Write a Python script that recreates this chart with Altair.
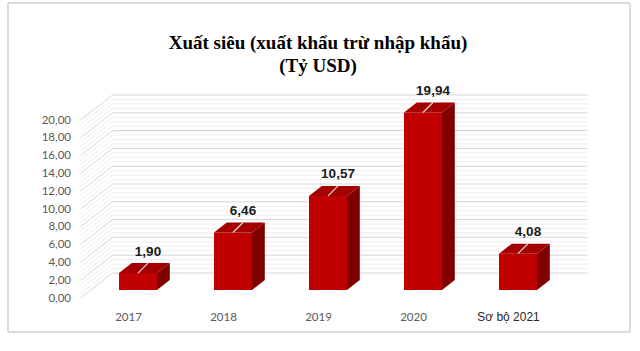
import altair as alt
import pandas as pd
import numpy as np

# ---- data ----
categories = ["2017", "2018", "2019", "2020", "Sơ bộ 2021"]
values = [1.90, 6.46, 10.57, 19.94, 4.08]
y_ticks = [0, 2, 4, 6, 8, 10, 12, 14, 16, 18, 20]
title_lines = ["Xuất siêu (xuất khẩu trừ nhập khẩu)", "(Tỷ USD)"]

# ---- geometry of the pseudo-3D projection ----
W, H = 475, 178
X_DOMAIN = [-0.5, len(categories) - 0.5]
Y_DOMAIN = [0, 20]
PX_X = W / (X_DOMAIN[1] - X_DOMAIN[0])
PX_Y = H / (Y_DOMAIN[1] - Y_DOMAIN[0])


def ux(px):
    return px / PX_X


def uy(px):
    return px / PX_Y


WALL_DX, WALL_DY = ux(32), uy(25)      # depth of the walls
BAR_DX, BAR_DY = ux(10), uy(8)         # bar front face set back
TOP_DX, TOP_DY = ux(12.8), uy(10)      # bar depth
HALF = ux(19)                          # half bar width
LEAD_DX, LEAD_DY = ux(10), uy(10)      # leader line

# ---- derived tables ----
grid_vals = np.round(np.arange(0, 20.001, 0.5), 2)
grid = pd.DataFrame({"v": grid_vals})
grid["major"] = (grid["v"] % 2 == 0)
grid["bx"] = X_DOMAIN[0] + WALL_DX
grid["bx2"] = X_DOMAIN[1] + WALL_DX
grid["by"] = grid["v"] + WALL_DY
grid["sx"] = X_DOMAIN[0]

bars = pd.DataFrame({"i": range(len(categories)), "name": categories, "v": values})
bars["x0"] = bars["i"] + BAR_DX - HALF
bars["x1"] = bars["i"] + BAR_DX + HALF
bars["yb"] = BAR_DY
bars["yt"] = bars["v"] + BAR_DY
bars["lx"] = bars["i"] + BAR_DX
bars["lx2"] = bars["lx"] + LEAD_DX
bars["ly2"] = bars["yt"] + LEAD_DY

side_rows, top_rows = [], []
for r in bars.to_dict("records"):
    side_rows.append({"name": r["name"], "x": r["x1"], "y": r["yb"], "y2": r["yt"]})
    side_rows.append({"name": r["name"], "x": r["x1"] + TOP_DX, "y": r["yb"] + TOP_DY, "y2": r["yt"] + TOP_DY})
    top_rows.append({"name": r["name"], "y": r["yt"], "x": r["x0"], "x2": r["x1"]})
    top_rows.append({"name": r["name"], "y": r["yt"] + TOP_DY, "x": r["x0"] + TOP_DX, "x2": r["x1"] + TOP_DX})
side = pd.DataFrame(side_rows)
top = pd.DataFrame(top_rows)

xs = alt.Scale(domain=X_DOMAIN, nice=False, zero=False)
ys = alt.Scale(domain=Y_DOMAIN, nice=False, zero=False)

label_expr = "[" + ",".join("'" + c + "'" for c in categories) + "][datum.value]"
last = len(categories) - 1
cond = f"datum.value == {last}"

AX_X = alt.Axis(
    values=list(range(len(categories))), labelExpr=label_expr, title=None,
    domain=False, ticks=False, grid=False, labelPadding=13,
    labelFont={"condition": {"test": cond, "value": "Liberation Sans"}, "value": "Lato"},
    labelFontSize={"condition": {"test": cond, "value": 12}, "value": 11.5},
    labelColor={"condition": {"test": cond, "value": "#262626"}, "value": "#595959"},
)
AX_Y = alt.Axis(
    values=y_ticks, labelExpr="replace(format(datum.value, '.2f'), '.', ',')",
    title=None, domain=False, ticks=False, grid=False, labelPadding=10,
    labelFont="Lato", labelFontSize=11.5, labelColor="#595959",
)


def X(f):
    return alt.X(f, scale=xs, axis=AX_X, title=None)


def Y(f):
    return alt.Y(f, scale=ys, axis=AX_Y, title=None)


# ---- layers ----
grid_color = alt.condition("datum.major", alt.value("#d6d6d6"), alt.value("#ededed"))
back_wall = alt.Chart(grid).mark_rule().encode(
    x=X("bx:Q"), x2="bx2:Q", y=Y("by:Q"), color=grid_color,
)
side_wall = alt.Chart(grid).mark_rule().encode(
    x=X("sx:Q"), x2="bx:Q", y=Y("v:Q"), y2="by:Q", color=grid_color,
)
front = alt.Chart(bars).mark_rect(color="#C00000").encode(
    x=X("x0:Q"), x2="x1:Q", y=Y("yb:Q"), y2="yt:Q",
)
side_face = alt.Chart(side).mark_area(orient="vertical", color="#800000").encode(
    x=X("x:Q"), y=Y("y:Q"), y2="y2:Q", detail="name:N",
)
top_face = alt.Chart(top).mark_area(orient="horizontal", color="#A50000").encode(
    y=Y("y:Q"), x=X("x:Q"), x2="x2:Q", detail="name:N",
)
leader = alt.Chart(bars).mark_rule(color="#d9d9d9", strokeWidth=1.2).encode(
    x=X("lx:Q"), x2="lx2:Q", y=Y("yt:Q"), y2="ly2:Q",
)
labels = alt.Chart(bars).transform_calculate(
    txt="replace(format(datum.v, '.2f'), '.', ',')"
).mark_text(
    font="Liberation Sans", fontSize=13.5, fontWeight="bold", color="#1a1a1a",
    baseline="alphabetic", dy=-7.5,
).encode(
    x=X("lx2:Q"), y=Y("ly2:Q"), text="txt:N",
)

frame = alt.Chart(bars).mark_rect(fillOpacity=0, stroke="#d9d9d9", strokeWidth=1).encode(
    x=alt.value(8 - 80.5), x2=alt.value(630 - 80.5),
    y=alt.value(3 - 120), y2=alt.value(332 - 120),
)

chart = alt.layer(
    frame, back_wall, side_wall, front, side_face, top_face, leader, labels
).properties(
    width=W, height=H,
    title=alt.TitleParams(
        text=title_lines, font="Liberation Serif", fontSize=19, fontWeight="bold",
        color="#000000", lineHeight=23, anchor="middle", offset=-73,
    ),
    autosize=alt.AutoSizeParams(type="none"),
    padding={"left": 80.5, "top": 120, "right": 640 - 80.5 - W, "bottom": 351 - 120 - H},
).configure_view(stroke="transparent")

chart.save("out.html", embed_options={"renderer": "svg", "actions": False})
